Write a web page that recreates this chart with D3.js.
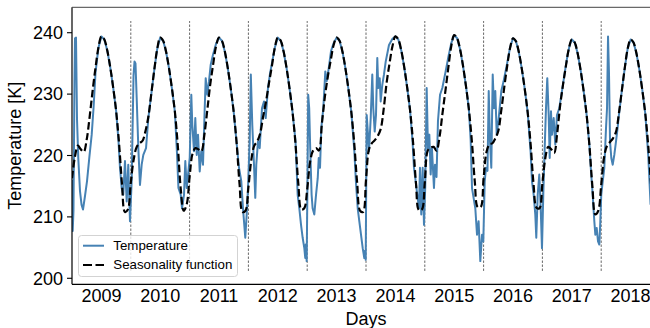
<!DOCTYPE html>
<html>
<head>
<meta charset="utf-8">
<script src="https://cdn.jsdelivr.net/npm/d3@7"></script>
<style>
  body { margin: 0; background: #fff; }
  svg { display: block; font-family: "Liberation Sans", Arial, sans-serif; }
</style>
</head>
<body>
<svg id="chart" width="650" height="328"></svg>
<script>
// data
const yearTicks = [2009, 2010, 2011, 2012, 2013, 2014, 2015, 2016, 2017, 2018];
const tempTicks = [200, 210, 220, 230, 240];
const yearBreaks = [2009.5, 2010.5, 2011.5, 2012.5, 2013.5, 2014.5, 2015.5, 2016.5, 2017.5];

// seasonality function, sampled every 0.05 year from 2008.5
const seasonStart = 2008.5, seasonStep = 0.05;
const seasonality = [
  216.3, 219.8, 221.6, 221.0, 220.6, 222.6, 226.3, 230.5, 234.3, 237.6,
  239.4, 238.9, 237.1, 234.4, 231.1, 227.3, 222.0, 215.4, 210.8, 211.2,
  215.6, 219.4, 221.4, 222.0, 222.4, 224.0, 226.4, 230.2, 234.0, 237.4,
  239.2, 238.7, 236.9, 234.2, 230.9, 227.1, 221.5, 214.5, 211.0, 212.0,
  216.5, 220.3, 221.2, 221.0, 220.7, 223.3, 227.3, 231.5, 234.8, 237.8,
  239.2, 238.7, 236.9, 234.2, 230.9, 227.1, 222.0, 215.3, 210.8, 211.0,
  214.8, 219.3, 221.6, 222.3, 223.6, 226.3, 228.8, 231.8, 234.6, 237.6,
  239.2, 238.7, 236.9, 234.2, 230.9, 227.1, 222.0, 215.3, 211.2, 211.4,
  214.5, 219.0, 220.8, 221.2, 220.8, 225.2, 229.5, 232.8, 235.5, 238.0,
  239.2, 238.7, 236.9, 234.2, 230.9, 227.1, 222.0, 215.5, 211.0, 210.8,
  216.0, 221.0, 222.0, 222.5, 223.2, 224.3, 227.5, 231.8, 235.0, 237.8,
  239.4, 238.9, 237.1, 234.4, 231.1, 227.3, 222.2, 215.5, 211.1, 211.2,
  215.6, 220.8, 221.3, 221.4, 220.8, 223.0, 226.8, 230.5, 234.3, 237.8,
  239.6, 239.1, 237.3, 234.6, 231.3, 227.5, 222.4, 215.8, 211.6, 211.6,
  216.3, 220.6, 221.8, 222.0, 222.8, 224.0, 227.3, 231.0, 234.5, 237.5,
  239.1, 238.6, 236.8, 234.1, 230.8, 227.0, 221.8, 215.3, 211.5, 211.4,
  215.5, 219.6, 221.4, 221.0, 220.4, 223.5, 228.0, 231.5, 234.6, 237.4,
  238.9, 238.4, 236.6, 233.9, 230.6, 226.8, 221.6, 215.0, 210.4, 211.0,
  215.2, 219.8, 221.6, 222.2, 222.8, 223.8, 226.8, 230.5, 234.2, 237.4,
  238.9, 238.4, 236.6, 233.9, 230.6, 226.8, 221.6, 215.0
];

// temperature [year, K]
const temperature = [
  [2008.500, 216.0], [2008.512, 207.7], [2008.525, 211.0], [2008.542, 232.0], [2008.551, 239.1],
  [2008.568, 239.2], [2008.585, 226.0], [2008.607, 219.5], [2008.636, 214.2], [2008.662, 212.0],
  [2008.687, 211.2], [2008.721, 213.4], [2008.755, 215.8], [2008.794, 219.6], [2008.835, 223.4],
  [2008.866, 227.7], [2008.900, 233.5], [2008.950, 237.6], [2009.000, 239.4], [2009.050, 238.9],
  [2009.100, 237.1], [2009.150, 234.4], [2009.200, 231.1], [2009.250, 227.3], [2009.290, 222.5],
  [2009.316, 218.0], [2009.345, 214.7], [2009.372, 213.6], [2009.401, 219.1], [2009.430, 212.5],
  [2009.457, 218.5], [2009.486, 209.3], [2009.515, 215.8], [2009.546, 233.0], [2009.563, 235.3],
  [2009.580, 235.0], [2009.600, 229.4], [2009.628, 221.2], [2009.656, 215.2], [2009.685, 218.5],
  [2009.713, 220.1], [2009.759, 221.2], [2009.798, 226.1], [2009.855, 230.5], [2009.900, 234.0],
  [2009.950, 237.4], [2010.000, 239.2], [2010.050, 238.7], [2010.100, 236.9], [2010.150, 234.2],
  [2010.200, 230.9], [2010.250, 227.1], [2010.285, 220.5], [2010.310, 214.7], [2010.349, 213.6],
  [2010.371, 211.4], [2010.405, 213.6], [2010.427, 219.1], [2010.451, 214.7], [2010.502, 219.6],
  [2010.529, 229.9], [2010.546, 225.0], [2010.575, 220.7], [2010.597, 226.1], [2010.621, 220.1],
  [2010.643, 223.4], [2010.672, 217.4], [2010.699, 220.7], [2010.728, 218.5], [2010.757, 227.7],
  [2010.774, 232.6], [2010.801, 229.9], [2010.830, 232.1], [2010.859, 234.8], [2010.898, 236.4],
  [2010.950, 238.2], [2011.000, 239.2], [2011.050, 238.7], [2011.100, 236.9], [2011.150, 234.2],
  [2011.200, 230.9], [2011.250, 227.1], [2011.300, 222.0], [2011.340, 218.0], [2011.379, 215.8],
  [2011.408, 211.4], [2011.425, 209.3], [2011.447, 206.6], [2011.471, 210.4], [2011.493, 214.7],
  [2011.522, 222.3], [2011.541, 233.2], [2011.566, 225.0], [2011.595, 218.5], [2011.617, 213.1],
  [2011.634, 218.5], [2011.663, 222.3], [2011.692, 221.2], [2011.731, 227.7], [2011.765, 228.8],
  [2011.794, 226.1], [2011.833, 231.0], [2011.870, 233.5], [2011.900, 235.0], [2011.950, 237.6],
  [2012.000, 239.2], [2012.050, 238.7], [2012.100, 236.9], [2012.150, 234.2], [2012.200, 230.9],
  [2012.250, 227.1], [2012.300, 222.5], [2012.320, 218.0], [2012.338, 213.6], [2012.366, 211.4],
  [2012.395, 208.7], [2012.423, 206.6], [2012.451, 204.9], [2012.467, 203.3], [2012.476, 205.5],
  [2012.491, 202.8], [2012.504, 215.0], [2012.517, 229.9], [2012.534, 227.7], [2012.551, 221.2],
  [2012.575, 213.6], [2012.592, 211.4], [2012.621, 210.4], [2012.650, 213.6], [2012.679, 216.3],
  [2012.696, 219.6], [2012.718, 218.0], [2012.740, 224.5], [2012.774, 227.7], [2012.808, 233.7],
  [2012.832, 232.1], [2012.866, 234.2], [2012.905, 237.0], [2012.950, 238.3], [2013.000, 239.2],
  [2013.050, 238.7], [2013.100, 236.9], [2013.150, 234.2], [2013.200, 230.9], [2013.250, 227.1],
  [2013.300, 221.0], [2013.330, 215.5], [2013.359, 211.4], [2013.386, 209.3], [2013.415, 207.1],
  [2013.444, 204.9], [2013.471, 203.3], [2013.483, 204.5], [2013.495, 203.0], [2013.512, 226.6],
  [2013.534, 223.4], [2013.551, 220.7], [2013.580, 226.1], [2013.607, 233.2], [2013.624, 227.7],
  [2013.648, 223.9], [2013.670, 226.6], [2013.692, 235.9], [2013.709, 231.0], [2013.733, 232.6],
  [2013.750, 228.8], [2013.777, 231.5], [2013.806, 233.2], [2013.835, 235.3], [2013.891, 238.0],
  [2013.950, 239.0], [2014.000, 239.4], [2014.050, 238.9], [2014.100, 237.1], [2014.150, 234.4],
  [2014.200, 231.1], [2014.250, 227.3], [2014.290, 222.5], [2014.316, 218.0], [2014.345, 215.8],
  [2014.372, 213.6], [2014.401, 211.4], [2014.418, 218.0], [2014.440, 210.4], [2014.464, 218.0],
  [2014.486, 208.7], [2014.508, 215.0], [2014.532, 231.0], [2014.554, 221.2], [2014.577, 223.4],
  [2014.600, 216.9], [2014.621, 221.2], [2014.656, 214.7], [2014.673, 218.5], [2014.699, 216.5],
  [2014.724, 225.6], [2014.759, 229.9], [2014.798, 231.0], [2014.850, 233.5], [2014.900, 236.0],
  [2014.950, 238.3], [2015.000, 239.6], [2015.050, 239.1], [2015.100, 237.3], [2015.150, 234.6],
  [2015.200, 231.3], [2015.250, 227.5], [2015.280, 222.5], [2015.303, 214.7], [2015.359, 211.4],
  [2015.388, 207.1], [2015.415, 209.3], [2015.444, 202.8], [2015.473, 207.1], [2015.495, 206.0],
  [2015.519, 215.8], [2015.541, 218.0], [2015.566, 217.5], [2015.587, 230.5], [2015.609, 222.3],
  [2015.631, 218.0], [2015.655, 233.2], [2015.677, 227.7], [2015.699, 230.5], [2015.723, 223.4],
  [2015.757, 226.1], [2015.801, 230.5], [2015.838, 232.0], [2015.900, 235.0], [2015.950, 237.6],
  [2016.000, 239.1], [2016.050, 238.6], [2016.100, 236.8], [2016.150, 234.1], [2016.200, 230.8],
  [2016.250, 227.0], [2016.300, 220.5], [2016.323, 215.8], [2016.352, 213.6], [2016.379, 210.4],
  [2016.396, 206.6], [2016.420, 213.6], [2016.447, 216.9], [2016.471, 211.4], [2016.493, 204.9],
  [2016.515, 213.6], [2016.539, 221.2], [2016.561, 227.7], [2016.583, 232.6], [2016.607, 226.6],
  [2016.624, 219.6], [2016.646, 227.2], [2016.663, 223.4], [2016.692, 226.1], [2016.719, 221.8],
  [2016.748, 226.6], [2016.787, 227.7], [2016.833, 230.5], [2016.880, 233.5], [2016.930, 236.5],
  [2016.960, 237.8], [2017.000, 238.9], [2017.050, 238.4], [2017.100, 236.6], [2017.150, 233.9],
  [2017.200, 230.6], [2017.250, 226.8], [2017.300, 221.6], [2017.327, 217.4], [2017.355, 213.6],
  [2017.383, 209.3], [2017.400, 207.1], [2017.423, 208.2], [2017.446, 206.0], [2017.468, 205.5],
  [2017.485, 209.3], [2017.501, 213.6], [2017.526, 215.8], [2017.553, 218.0], [2017.582, 224.5],
  [2017.599, 227.7], [2017.616, 239.4], [2017.633, 233.2], [2017.650, 222.3], [2017.672, 219.6],
  [2017.696, 218.5], [2017.723, 220.1], [2017.752, 222.3], [2017.779, 224.5], [2017.800, 226.5],
  [2017.850, 230.5], [2017.900, 234.2], [2017.950, 237.4], [2018.000, 238.9], [2018.050, 238.4],
  [2018.100, 236.6], [2018.150, 233.9], [2018.200, 230.6], [2018.250, 226.8], [2018.300, 220.0],
  [2018.340, 212.0]
];

// scales
const svg = d3.select("#chart"),
    plot = {left: 72, right: 660, top: 7.3, bottom: 284.3},
    x = d3.scaleLinear().domain([2008.5, 2018.5]).range([plot.left, plot.right]),
    y = d3.scaleLinear().domain([199.02, 244.14]).range([plot.bottom, plot.top]);

svg.append("defs").append("clipPath")
    .attr("id", "clip")
  .append("rect")
    .attr("x", plot.left).attr("y", plot.top)
    .attr("width", plot.right - plot.left).attr("height", plot.bottom - plot.top);

const g = svg.append("g").attr("clip-path", "url(#clip)");

// year boundaries
g.selectAll("line.brk")
    .data(yearBreaks)
  .enter().append("line")
    .attr("class", "brk")
    .attr("x1", d => x(d)).attr("x2", d => x(d))
    .attr("y1", y(201.2)).attr("y2", y(241.9))
    .attr("stroke", "#555")
    .attr("stroke-width", 0.9)
    .attr("stroke-dasharray", "2.4,1.6");

// temperature
g.append("path")
    .datum(temperature)
    .attr("fill", "none")
    .attr("stroke", "#4682b4")
    .attr("stroke-width", 2)
    .attr("stroke-linejoin", "round")
    .attr("d", d3.line().x(d => x(d[0])).y(d => y(d[1])));

// seasonality
g.append("path")
    .datum(seasonality)
    .attr("fill", "none")
    .attr("stroke", "#000")
    .attr("stroke-width", 2.2)
    .attr("stroke-dasharray", "7.5,3.3")
    .attr("d", d3.line()
        .curve(d3.curveCatmullRom.alpha(0.5))
        .x((d, i) => x(seasonStart + i * seasonStep))
        .y(d => y(d)));

// spines
svg.append("line")
    .attr("x1", plot.left).attr("x2", plot.left)
    .attr("y1", plot.top).attr("y2", plot.bottom)
    .attr("stroke", "#000").attr("stroke-width", 1.2);
svg.append("line")
    .attr("x1", plot.left).attr("x2", plot.right)
    .attr("y1", plot.bottom).attr("y2", plot.bottom)
    .attr("stroke", "#000").attr("stroke-width", 1.2);
svg.append("line")
    .attr("x1", plot.left).attr("x2", plot.right)
    .attr("y1", plot.top).attr("y2", plot.top)
    .attr("stroke", "#444").attr("stroke-width", 1);

// y axis
const yt = svg.append("g").selectAll("g")
    .data(tempTicks)
  .enter().append("g");
yt.append("line")
    .attr("x1", plot.left - 5).attr("x2", plot.left)
    .attr("y1", d => y(d)).attr("y2", d => y(d))
    .attr("stroke", "#000").attr("stroke-width", 1.1);
yt.append("text")
    .attr("x", plot.left - 9)
    .attr("y", d => y(d))
    .attr("dy", "0.35em")
    .attr("text-anchor", "end")
    .attr("font-size", "18px")
    .text(d => d);

// x axis labels
svg.append("g").selectAll("text")
    .data(yearTicks)
  .enter().append("text")
    .attr("x", d => x(d))
    .attr("y", 302)
    .attr("text-anchor", "middle")
    .attr("font-size", "18px")
    .text(d => d);

svg.append("text")
    .attr("x", (plot.left + plot.right) / 2)
    .attr("y", 324.5)
    .attr("text-anchor", "middle")
    .attr("font-size", "18px")
    .text("Days");

svg.append("text")
    .attr("transform", "translate(21," + (plot.top + plot.bottom) / 2 + ") rotate(-90)")
    .attr("text-anchor", "middle")
    .attr("font-size", "18px")
    .text("Temperature [K]");

// legend
const legend = svg.append("g");
legend.append("rect")
    .attr("x", 78.5).attr("y", 235.5)
    .attr("width", 159).attr("height", 41)
    .attr("rx", 3)
    .attr("fill", "#fff").attr("fill-opacity", 0.8)
    .attr("stroke", "#d3d3d3").attr("stroke-width", 1);
legend.append("line")
    .attr("x1", 83).attr("x2", 104).attr("y1", 245.7).attr("y2", 245.7)
    .attr("stroke", "#4682b4").attr("stroke-width", 2);
legend.append("line")
    .attr("x1", 83).attr("x2", 104).attr("y1", 265).attr("y2", 265)
    .attr("stroke", "#000").attr("stroke-width", 2.2)
    .attr("stroke-dasharray", "9,3.5");
legend.append("text")
    .attr("x", 113.3).attr("y", 249.7)
    .attr("font-size", "13.3px")
    .text("Temperature");
legend.append("text")
    .attr("x", 113.3).attr("y", 268.9)
    .attr("font-size", "13.3px")
    .text("Seasonality function");
</script>
</body>
</html>
